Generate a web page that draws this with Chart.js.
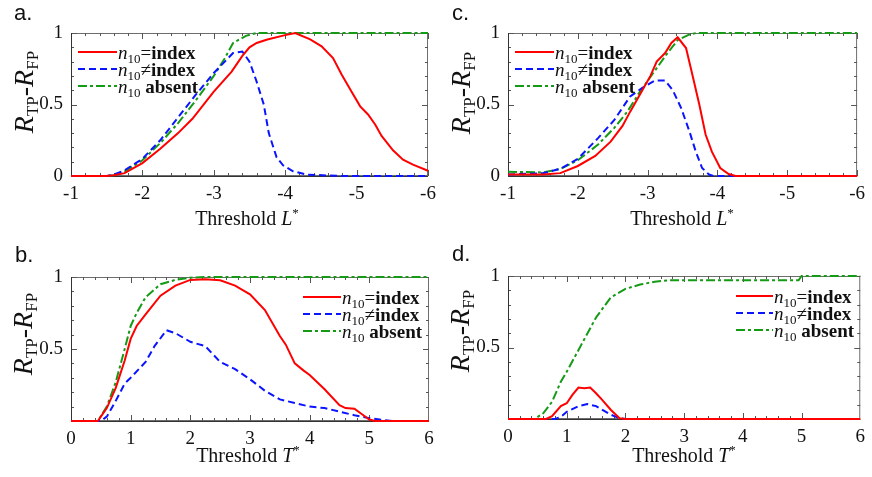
<!DOCTYPE html>
<html>
<head>
<meta charset="utf-8">
<script src="https://cdn.jsdelivr.net/npm/chart.js@4.4.0/dist/chart.umd.min.js"></script>
<style>
  body { margin: 0; background: #fff; }
  #page { position: relative; width: 872px; height: 477px; overflow: hidden; font-family: "Liberation Serif", serif; color: #111; }
  canvas { position: absolute; left: 0; top: 0; }
  .t { position: absolute; white-space: nowrap; line-height: 1; }
  .lbl { font-family: "Liberation Sans", Arial, sans-serif; font-size: 22px; }
  .leg { font-size: 19px; transform: translateY(-50%); }
  .leg sub { font-size: 13px; vertical-align: -4px; line-height: 0; }
  .xtl { font-size: 20px; transform: translate(-50%, -50%); }
  .xtl sup { font-size: 13px; vertical-align: 8px; line-height: 0; }
  .ytl { font-size: 28px; transform: translate(-50%, -50%) rotate(-90deg); }
  .ytl sub { font-size: 17px; vertical-align: -5px; line-height: 0; }
</style>
</head>
<body>
<div id="page">
  <canvas id="ca" width="872" height="477"></canvas>
  <canvas id="cc" width="872" height="477"></canvas>
  <canvas id="cb" width="872" height="477"></canvas>
  <canvas id="cd" width="872" height="477"></canvas>
</div>
<script>
// ---- data: [threshold, R_TP - R_FP] ----
// a. threshold L*
const aIndex = [[-1,0],[-1.5,0],[-1.6,0.005],[-1.75,0.02],[-2,0.09],[-2.25,0.19],[-2.5,0.3],[-2.7,0.4],[-3,0.59],[-3.25,0.73],[-3.4,0.84],[-3.5,0.9],[-3.6,0.93],[-3.75,0.955],[-4,0.985],[-4.14,1],[-4.35,0.955],[-4.51,0.907],[-4.67,0.825],[-4.79,0.71],[-4.93,0.59],[-5.05,0.487],[-5.16,0.43],[-5.26,0.36],[-5.35,0.28],[-5.51,0.18],[-5.65,0.114],[-5.79,0.079],[-6,0.037]];
const aOther = [[-1,0],[-1.5,0],[-1.6,0.01],[-1.75,0.04],[-2,0.12],[-2.25,0.25],[-2.5,0.41],[-2.75,0.57],[-3,0.72],[-3.27,0.86],[-3.4,0.87],[-3.5,0.8],[-3.6,0.66],[-3.7,0.5],[-3.77,0.3],[-3.88,0.13],[-3.97,0.075],[-4.11,0.033],[-4.3,0.01],[-4.63,0.003],[-4.8,0],[-6,0]];
const aAbsent = [[-1,0],[-1.5,0],[-1.6,0.005],[-1.75,0.03],[-2,0.11],[-2.25,0.23],[-2.5,0.37],[-2.75,0.53],[-3,0.7],[-3.15,0.82],[-3.27,0.93],[-3.45,0.98],[-3.6,1],[-6,1]];
// c. threshold L*
const cIndex = [[-1,0.01],[-1.5,0.01],[-1.75,0.02],[-2,0.07],[-2.25,0.14],[-2.47,0.24],[-2.64,0.35],[-2.75,0.45],[-2.89,0.57],[-3.04,0.7],[-3.13,0.8],[-3.25,0.86],[-3.34,0.93],[-3.43,0.97],[-3.55,0.895],[-3.64,0.71],[-3.74,0.5],[-3.83,0.29],[-3.92,0.17],[-4.04,0.056],[-4.16,0.014],[-4.26,0],[-6,0]];
const cOther = [[-1,0.01],[-1.5,0.02],[-1.75,0.05],[-2,0.12],[-2.29,0.265],[-2.52,0.39],[-2.75,0.557],[-2.92,0.615],[-3.1,0.667],[-3.25,0.667],[-3.36,0.6],[-3.48,0.475],[-3.6,0.31],[-3.69,0.17],[-3.78,0.056],[-3.88,0.01],[-3.95,0],[-6,0]];
const cAbsent = [[-1,0.03],[-1.5,0.025],[-1.75,0.05],[-2,0.11],[-2.29,0.22],[-2.52,0.335],[-2.71,0.45],[-2.89,0.59],[-3.08,0.72],[-3.27,0.85],[-3.43,0.95],[-3.6,0.99],[-3.7,1],[-6,1]];
// b. threshold T*
const bIndex = [[0,0],[0.45,0],[0.5,0.03],[0.6,0.09],[0.75,0.23],[0.9,0.42],[1,0.57],[1.1,0.66],[1.25,0.74],[1.5,0.87],[1.75,0.94],[2,0.98],[2.25,0.985],[2.5,0.977],[2.75,0.94],[3,0.88],[3.25,0.77],[3.5,0.59],[3.6,0.53],[3.75,0.4],[3.9,0.35],[4,0.32],[4.25,0.22],[4.5,0.11],[4.6,0.09],[4.75,0.085],[4.9,0.04],[5,0.01],[5.1,0],[6,0]];
const bOther = [[0,0],[0.5,0],[0.6,0.03],[0.75,0.14],[0.9,0.26],[1,0.3],[1.25,0.41],[1.4,0.52],[1.6,0.63],[1.75,0.61],[2,0.55],[2.25,0.52],[2.5,0.41],[2.75,0.36],[3,0.29],[3.25,0.21],[3.5,0.15],[3.75,0.125],[4,0.1],[4.25,0.09],[4.5,0.065],[4.75,0.04],[5,0.02],[5.25,0.005],[5.4,0],[6,0]];
const bAbsent = [[0,0],[0.45,0],[0.6,0.1],[0.75,0.27],[0.9,0.5],[1,0.66],[1.1,0.75],[1.25,0.86],[1.5,0.95],[1.75,0.98],[2,0.995],[2.25,1],[6,1]];
// d. threshold T*
const dIndex = [[0,0],[0.65,0],[0.75,0.02],[0.9,0.09],[1,0.11],[1.1,0.17],[1.2,0.22],[1.3,0.215],[1.4,0.22],[1.5,0.18],[1.6,0.135],[1.75,0.065],[1.9,0.005],[2,0],[6,0]];
const dOther = [[0,0],[0.8,0],[0.9,0.015],[1,0.05],[1.2,0.09],[1.35,0.105],[1.5,0.09],[1.75,0.03],[1.9,0.005],[2,0],[6,0]];
const dAbsent = [[0,0],[0.45,0],[0.6,0.04],[0.75,0.12],[0.9,0.26],[1,0.33],[1.25,0.52],[1.5,0.71],[1.75,0.85],[2,0.91],[2.25,0.94],[2.5,0.96],[2.75,0.97],[4.95,0.97],[5,1],[6,1]];

const seriesNames = ["n10 = index", "n10 \u2260 index", "n10 absent"];
const legendHtml = [
  '<i>n</i><sub>10</sub>=<b>index</b>',
  '<i>n</i><sub>10</sub>\u2260<b>index</b>',
  '<i>n</i><sub>10</sub> <b>absent</b>'
];
const yTicksAC = [0, 0.5, 1];
const yTicksBD = [0.5, 1];

const RED = "#ff0000", BLUE = "#0a14ff", GREEN = "#159a15";
const SERIF = "'Liberation Serif', 'Times New Roman', serif";

// frame box with inward ticks on all four sides
const frameTicks = {
  id: "frameTicks",
  beforeDatasetsDraw(chart) {
    const { ctx, chartArea: a, scales: { x, y } } = chart;
    ctx.save();
    ctx.lineWidth = 1;
    ctx.strokeStyle = "#6e6e6e";
    ctx.strokeRect(a.left + 0.5, a.top + 0.5, a.width - 1, a.height - 1);
    ctx.strokeStyle = "#555";
    ctx.beginPath();
    const lo = Math.min(x.min, x.max);
    for (let i = 0; i <= 25; i++) {
      const px = Math.round(x.getPixelForValue(lo + i * 0.2)) + 0.5;
      const len = i % 5 === 0 ? 6 : 3;
      ctx.moveTo(px, a.bottom); ctx.lineTo(px, a.bottom - len);
      ctx.moveTo(px, a.top); ctx.lineTo(px, a.top + len);
    }
    for (let i = 0; i <= 10; i++) {
      const py = Math.round(y.getPixelForValue(i * 0.1)) + 0.5;
      const len = i % 5 === 0 ? 6 : 3;
      ctx.moveTo(a.left, py); ctx.lineTo(a.left + len, py);
      ctx.moveTo(a.right, py); ctx.lineTo(a.right - len, py);
    }
    ctx.stroke();
    // darker left and bottom axis lines
    ctx.strokeStyle = "#333";
    ctx.beginPath();
    ctx.moveTo(a.left + 0.5, a.top); ctx.lineTo(a.left + 0.5, a.bottom + 0.5);
    ctx.lineTo(a.right, a.bottom + 0.5);
    ctx.stroke();
    ctx.restore();
  }
};

// line samples of the legend (text is placed as HTML)
const legendSamples = {
  id: "legendSamples",
  afterDraw(chart, args, opts) {
    const ctx = chart.ctx;
    ctx.save();
    chart.data.datasets.forEach((ds, i) => {
      ctx.strokeStyle = ds.borderColor;
      ctx.lineWidth = ds.borderWidth;
      ctx.setLineDash(ds.borderDash || []);
      ctx.beginPath();
      ctx.moveTo(opts.x1, opts.ys[i]);
      ctx.lineTo(opts.x2, opts.ys[i]);
      ctx.stroke();
    });
    ctx.restore();
  }
};

function makePanel(id, box, xr, reverse, sets, yTicks, legend) {
  const page = document.getElementById("page");
  new Chart(document.getElementById(id), {
    type: "line",
    data: {
      datasets: [
        { label: seriesNames[0], data: sets[0].map(p => ({ x: p[0], y: p[1] })), borderColor: RED, borderWidth: 2, clip: 3 },
        { label: seriesNames[1], data: sets[1].map(p => ({ x: p[0], y: p[1] })), borderColor: BLUE, borderWidth: 2, borderDash: [7, 4], clip: 3 },
        { label: seriesNames[2], data: sets[2].map(p => ({ x: p[0], y: p[1] })), borderColor: GREEN, borderWidth: 2, borderDash: [9, 3, 3, 3], clip: 3 }
      ]
    },
    options: {
      responsive: false,
      animation: false,
      events: [],
      elements: { point: { radius: 0 }, line: { tension: 0 } },
      layout: { padding: { left: box.left - 60, top: box.top, right: 872 - box.right, bottom: 477 - box.bottom - 40 } },
      plugins: { legend: { display: false }, tooltip: { enabled: false }, legendSamples: legend },
      scales: {
        x: {
          type: "linear", min: xr[0], max: xr[1], reverse: reverse,
          grid: { display: false, drawTicks: false }, border: { display: false },
          afterFit: s => { s.height = 40; },
          ticks: { stepSize: 1, padding: 7, color: "#111", font: { family: SERIF, size: 19 }, maxRotation: 0,
                   callback: v => String(v) }
        },
        y: {
          min: 0, max: 1,
          grid: { display: false, drawTicks: false }, border: { display: false },
          afterFit: s => { s.width = 60; },
          afterBuildTicks: s => { s.ticks = yTicks.map(v => ({ value: v })); },
          ticks: { padding: 8, color: "#111", font: { family: SERIF, size: 19 }, callback: v => String(v) }
        }
      }
    },
    plugins: [frameTicks, legendSamples]
  });
  legendHtml.forEach((h, i) => {
    const el = document.createElement("div");
    el.className = "t leg";
    el.style.left = (legend.x2 + 1) + "px";
    el.style.top = legend.ys[i] + "px";
    el.innerHTML = h;
    page.appendChild(el);
  });
}

function addText(cls, html, left, top) {
  const el = document.createElement("div");
  el.className = "t " + cls;
  el.style.left = left + "px";
  el.style.top = top + "px";
  el.innerHTML = html;
  document.getElementById("page").appendChild(el);
}

makePanel("ca", { left: 71, top: 33, right: 428, bottom: 176 }, [-6, -1], true,
  [aIndex, aOther, aAbsent], yTicksAC, { x1: 78, x2: 117, ys: [52, 69, 86] });
makePanel("cc", { left: 508, top: 33, right: 865, bottom: 176 }, [-6, -1], true,
  [cIndex, cOther, cAbsent], yTicksAC, { x1: 515, x2: 554, ys: [52, 69, 86] });
makePanel("cb", { left: 71, top: 277, right: 429, bottom: 421 }, [0, 6], false,
  [bIndex, bOther, bAbsent], yTicksBD, { x1: 303, x2: 341, ys: [297, 314, 331] });
makePanel("cd", { left: 508, top: 276, right: 865, bottom: 419 }, [0, 6], false,
  [dIndex, dOther, dAbsent], yTicksBD, { x1: 736, x2: 773, ys: [296, 313, 330] });

// panel letters
addText("lbl", "a.", 14, 2);
addText("lbl", "c.", 452, 2);
addText("lbl", "b.", 15, 244);
addText("lbl", "d.", 452, 243);

// axis titles
const xTitleL = "Threshold\u00a0<i>L</i><sup>*</sup>";
const xTitleT = "Threshold\u00a0<i>T</i><sup>*</sup>";
const yTitle = "<i>R</i><sub>TP</sub>-<i>R</i><sub>FP</sub>";
addText("xtl", xTitleL, 247, 218);
addText("xtl", xTitleL, 682, 218);
addText("xtl", xTitleT, 248, 455);
addText("xtl", xTitleT, 684, 455);
addText("ytl", yTitle, 24, 92);
addText("ytl", yTitle, 461, 93);
addText("ytl", yTitle, 23, 334);
addText("ytl", yTitle, 460, 331);
</script>
</body>
</html>
